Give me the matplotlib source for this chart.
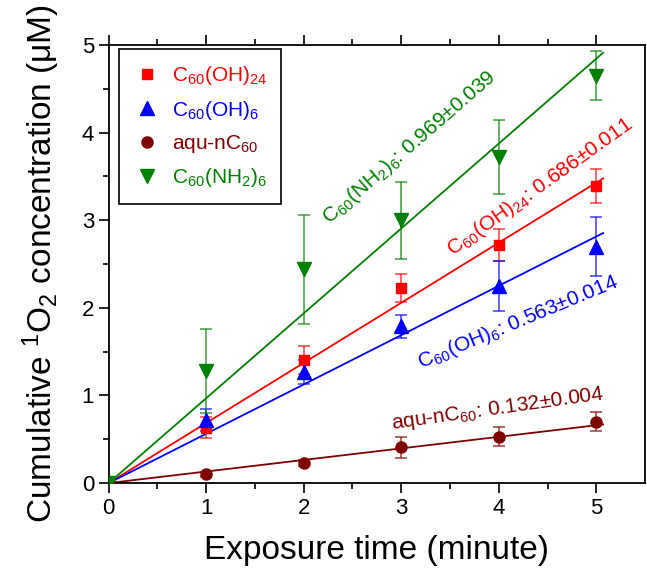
import numpy as np
import matplotlib.pyplot as plt

plt.rcParams['font.family'] = 'Liberation Sans'
plt.rcParams['mathtext.default'] = 'regular'

# data
time = [0, 1, 2, 3, 4, 5]

oh24 = [0, 0.63, 1.40, 2.23, 2.72, 3.39]
oh24_err = [0, 0.12, 0.16, 0.16, 0.18, 0.19]

oh6 = [0, 0.72, 1.27, 1.79, 2.25, 2.70]
oh6_err = [0, 0.13, 0.14, 0.13, 0.28, 0.34]

aqu = [0, 0.10, 0.23, 0.41, 0.53, 0.70]
aqu_err = [0, 0.03, 0.03, 0.12, 0.11, 0.11]

nh2 = [0, 1.28, 2.44, 3.00, 3.72, 4.65]
nh2_err = [0, 0.48, 0.62, 0.44, 0.42, 0.28]

# fitted slopes (through origin)
slopes = [0.686, 0.563, 0.132, 0.969]
fit_end = 5.07

labels = ['C$_{60}$(OH)$_{24}$', 'C$_{60}$(OH)$_{6}$', 'aqu-nC$_{60}$', 'C$_{60}$(NH$_{2}$)$_{6}$']
colors = ['#ff0000', '#0000ff', '#800000', '#008000']
markers = ['s', '^', 'o', 'v']
msizes = [7, 10, 8, 10]

fig = plt.figure(figsize=(6.47, 5.71), dpi=100)
ax = fig.add_axes([0.168, 0.154, 0.829, 0.767])

series = [(oh24, oh24_err), (oh6, oh6_err), (aqu, aqu_err), (nh2, nh2_err)]
xfit = np.array([0, fit_end])
for (y, e), k, c, m, ms, lab in zip(series, slopes, colors, markers, msizes, labels):
    ax.plot(xfit, k * xfit, color=c, lw=1.3, zorder=2)
    ax.errorbar(time, y, yerr=e, fmt='none', ecolor=c, elinewidth=1.2, capsize=4,
                capthick=1.2, alpha=0.7, zorder=3)
    ax.plot(time, y, ls='none', marker=m, ms=ms, color=c, label=lab, zorder=4)

# slope annotations
ax.text(2.30, 2.90, 'C$_{60}$(NH$_{2}$)$_{6}$: 0.969±0.039', color=colors[3], fontsize=15,
        rotation=41, rotation_mode='anchor', ha='left', va='bottom')
ax.text(3.56, 2.53, 'C$_{60}$(OH)$_{24}$: 0.686±0.011', color=colors[0], fontsize=15,
        rotation=35.5, rotation_mode='anchor', ha='left', va='bottom')
ax.text(3.22, 1.24, 'C$_{60}$(OH)$_{6}$: 0.563±0.014', color=colors[1], fontsize=15,
        rotation=22.5, rotation_mode='anchor', ha='left', va='bottom')
ax.text(2.92, 0.55, 'aqu-nC$_{60}$: 0.132±0.004', color=colors[2], fontsize=15,
        rotation=8, rotation_mode='anchor', ha='left', va='bottom')

ax.set_xlim(0, 5.5)
ax.set_ylim(0, 5)
ax.set_xticks([0, 1, 2, 3, 4, 5])
ax.set_xticks(np.arange(0.5, 5.5, 1), minor=True)
ax.set_yticks([0, 1, 2, 3, 4, 5])
ax.set_yticks(np.arange(0.5, 5, 1), minor=True)
ax.tick_params(which='both', direction='out', top=True, right=False, labelsize=16, width=1.2)
ax.tick_params(which='major', length=7)
ax.tick_params(which='minor', length=4)
for s in ax.spines.values():
    s.set_linewidth(1.3)

ax.set_xlabel('Exposure time (minute)', fontsize=24, labelpad=12)
ax.set_ylabel('Cumulative $^{1}$O$_{2}$ concentration (μM)', fontsize=24, labelpad=14)

leg = ax.legend(loc='upper left', bbox_to_anchor=(0.02, 0.99), borderaxespad=0, fontsize=15,
                fancybox=False, edgecolor='black', framealpha=1, handletextpad=0.6,
                labelspacing=0.55, borderpad=0.7, handlelength=1.2)
leg.get_frame().set_linewidth(1.2)
for t, c in zip(leg.get_texts(), colors):
    t.set_color(c)

plt.savefig('out.png', dpi=100)
